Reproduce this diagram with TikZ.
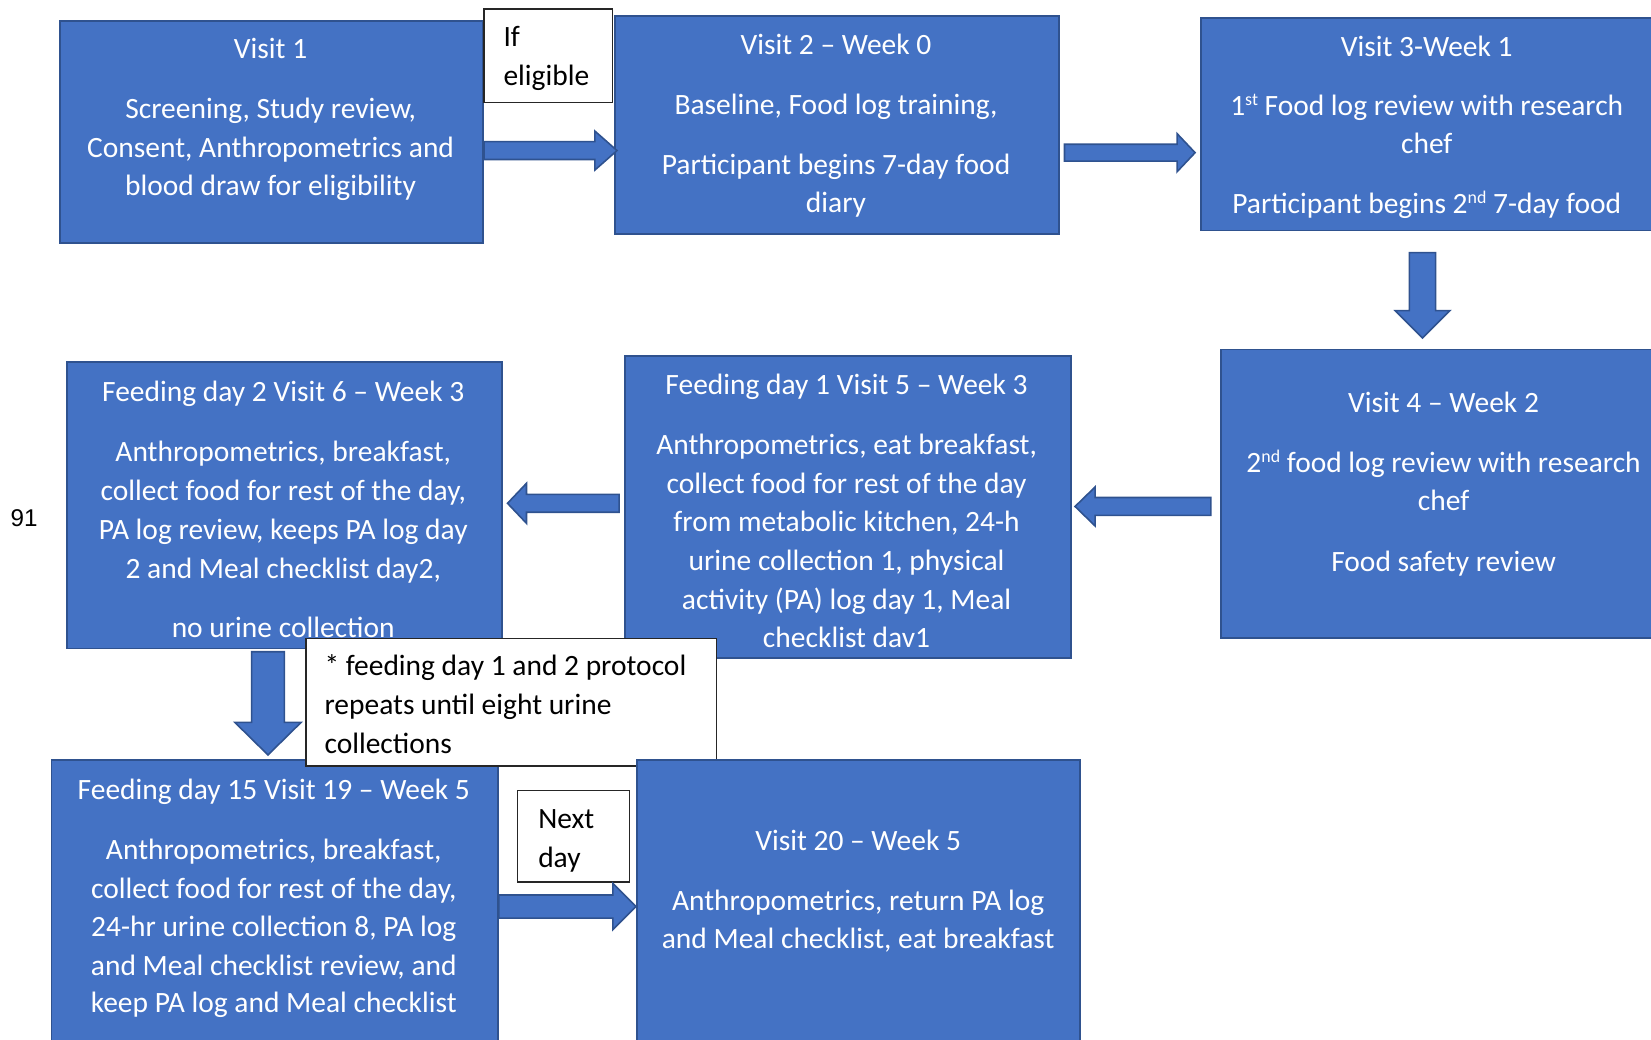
\documentclass[tikz,border=0pt]{standalone}
\usepackage{fontspec}
\setmainfont{Carlito}
\newfontfamily\arialfont{Liberation Sans}
\usetikzlibrary{calc}
\definecolor{boxblue}{HTML}{4472C4}
\definecolor{boxedge}{HTML}{2F528F}
\definecolor{noteedge}{HTML}{262626}
\newcommand{\mysup}[1]{\raisebox{10pt}{\fontsize{17}{17}\selectfont #1}}
\tikzset{
 bluebox/.style={draw=boxedge, fill=boxblue, line width=1.8pt, inner sep=0pt, anchor=north west},
 notebox/.style={draw=noteedge, fill=white, line width=1.2pt, inner sep=0pt, anchor=north west},
 wt/.style={text=white, font=\fontsize{28}{32}\selectfont, inner sep=0pt, anchor=base},
 bt/.style={text=black, font=\fontsize{28}{32}\selectfont, inner sep=0pt, anchor=base west},
 arr/.style={fill=boxblue, draw=boxedge, line width=1.5pt, line join=miter},
}
% horizontal block arrow: start, tip, shaft half, head half, head length (signed)
\newcommand{\harrow}[5]{\filldraw[arr] let \p1=#1, \p2=#2 in
 (\x1,{\y2+#3}) -- ({\x2-(#5)},{\y2+#3}) -- ({\x2-(#5)},{\y2+#4}) -- (\x2,\y2)
 -- ({\x2-(#5)},{\y2-#4}) -- ({\x2-(#5)},{\y2-#3}) -- (\x1,{\y2-#3}) -- cycle;}
% vertical (downward) block arrow
\newcommand{\varrow}[5]{\filldraw[arr] let \p1=#1, \p2=#2 in
 ({\x2-#3},\y1) -- ({\x2-#3},{\y2+#5}) -- ({\x2-#4},{\y2+#5}) -- (\x2,\y2)
 -- ({\x2+#4},{\y2+#5}) -- ({\x2+#3},{\y2+#5}) -- ({\x2+#3},\y1) -- cycle;}
\begin{document}
\begin{tikzpicture}[x=1pt,y=-1pt]
\useasboundingbox (0,0) rectangle (1568,987);
\clip (0,0) rectangle (1568,987);

% ---------- row 1 ----------
\node[bluebox, minimum width=402pt, minimum height=211pt] (v1) at (56,19) {};
\node[wt] (v1a) at (257,56) {Visit 1};
\node[wt] (v1b) at (257,113) {Screening, Study review,};
\node[wt] (v1c) at (257,150) {Consent, Anthropometrics and};
\node[wt] (v1d) at (257,186) {blood draw for eligibility};

\node[notebox, minimum width=122pt, minimum height=89pt] (elig) at (459,8) {};
\node[bt] (eliga) at (478,44) {If};
\node[bt] (eligb) at (478,81) {eligible};

\node[bluebox, minimum width=422pt, minimum height=207pt] (v2) at (583,14) {};
\node[wt] (v2a) at (794,52) {Visit 2 – Week 0};
\node[wt] (v2b) at (794,109) {Baseline, Food log training,};
\node[wt] (v2c) at (794,166) {Participant begins 7-day food};
\node[wt] (v2d) at (794,202) {diary};

\node[bluebox, minimum width=432pt, minimum height=202pt] (v3) at (1140,16) {};
\node[wt] (v3a) at (1355,54) {Visit 3-Week 1};
\node[wt] (v3b) at (1355,110) {1\mysup{st} Food log review with research};
\node[wt] (v3c) at (1355,146) {chef};
\node[wt] (v3d) at (1355,203) {Participant begins 2\mysup{nd} 7-day food};

\coordinate (a1s) at (v1.east |- 0,143);
\coordinate (a1e) at (586,143);
\harrow{(a1s)}{(a1e)}{8.5pt}{18.5pt}{21pt}
\coordinate (a2s) at (1011,145);
\coordinate (a2e) at (1135,145);
\harrow{(a2s)}{(a2e)}{8pt}{18pt}{17pt}
\coordinate (a3s) at (1351,240);
\coordinate (a3e) at (1351,321);
\varrow{(a3s)}{(a3e)}{12.5pt}{26pt}{26pt}

% ---------- row 2 ----------
\node[bluebox, minimum width=430pt, minimum height=274pt] (v4) at (1159,331) {};
\node[wt] (v4a) at (1371,392) {Visit 4 – Week 2};
\node[wt] (v4b) at (1371,449) {2\mysup{nd} food log review with research};
\node[wt] (v4c) at (1371,485) {chef};
\node[wt] (v4d) at (1371,543) {Food safety review};

\node[bluebox, minimum width=423pt, minimum height=287pt] (f1) at (593,337) {};
\node[wt] (f1a) at (804,375) {Feeding day 1 Visit 5 – Week 3};
\node[wt] (f1b) at (804,432) {Anthropometrics, eat breakfast,};
\node[wt] (f1c) at (804,469) {collect food for rest of the day};
\node[wt] (f1d) at (804,505) {from metabolic kitchen, 24-h};
\node[wt] (f1e) at (804,542) {urine collection 1, physical};
\node[wt] (f1f) at (804,579) {activity (PA) log day 1, Meal};
\node[wt] (f1g) at (804,615) {checklist dav1};

\node[bluebox, minimum width=413pt, minimum height=272pt] (f2) at (63,343) {};
\node[wt] (f2a) at (269,381) {Feeding day 2 Visit 6 – Week 3};
\node[wt] (f2b) at (269,438) {Anthropometrics, breakfast,};
\node[wt] (f2c) at (269,475) {collect food for rest of the day,};
\node[wt] (f2d) at (269,512) {PA log review, keeps PA log day};
\node[wt] (f2e) at (269,549) {2 and Meal checklist day2,};
\node[wt] (f2f) at (269,605) {no urine collection};

\node[font=\arialfont\fontsize{23}{23}\selectfont, inner sep=0pt, anchor=base] (num) at (23,500.5) {91};

\coordinate (a4s) at (1150,481);
\coordinate (a4e) at (1021,481);
\harrow{(a4s)}{(a4e)}{8.5pt}{18.5pt}{-19pt}
\coordinate (a5s) at (588,478);
\coordinate (a5e) at (482,478);
\harrow{(a5s)}{(a5e)}{8.5pt}{19pt}{-18pt}

% ---------- row 3 ----------
\node[bluebox, minimum width=424pt, minimum height=290pt] (f15) at (48,721) {};
\node[wt] (f15a) at (260,759) {Feeding day 15 Visit 19 – Week 5};
\node[wt] (f15b) at (260,816) {Anthropometrics, breakfast,};
\node[wt] (f15c) at (260,853) {collect food for rest of the day,};
\node[wt] (f15d) at (260,889) {24-hr urine collection 8, PA log};
\node[wt] (f15e) at (260,926) {and Meal checklist review, and};
\node[wt] (f15f) at (260,962) {keep PA log and Meal checklist};

\coordinate (a6s) at (254.5,619);
\coordinate (a6e) at (254.5,717);
\varrow{(a6s)}{(a6e)}{15.5pt}{31.5pt}{31pt}

\node[notebox, minimum width=390pt, minimum height=121pt] (note) at (290,606) {};
\node[bt] (notea) at (308,642) {* feeding day 1 and 2 protocol};
\node[bt] (noteb) at (308,679) {repeats until eight urine};
\node[bt] (notec) at (308,716) {collections};

\node[bluebox, minimum width=421pt, minimum height=290pt] (v20) at (604,721) {};
\node[wt] (v20a) at (815,808) {Visit 20 – Week 5};
\node[wt] (v20b) at (815,865) {Anthropometrics, return PA log};
\node[wt] (v20c) at (815,901) {and Meal checklist, eat breakfast};

\node[notebox, minimum width=106pt, minimum height=87pt] (nd) at (491,750) {};
\node[bt] (nda) at (511,787) {Next};
\node[bt] (ndb) at (511,824) {day};

\coordinate (a7s) at (f15.east |- 0,861);
\coordinate (a7e) at (v20.west |- 0,861);
\harrow{(a7s)}{(a7e)}{11pt}{22pt}{22pt}
\end{tikzpicture}
\end{document}
